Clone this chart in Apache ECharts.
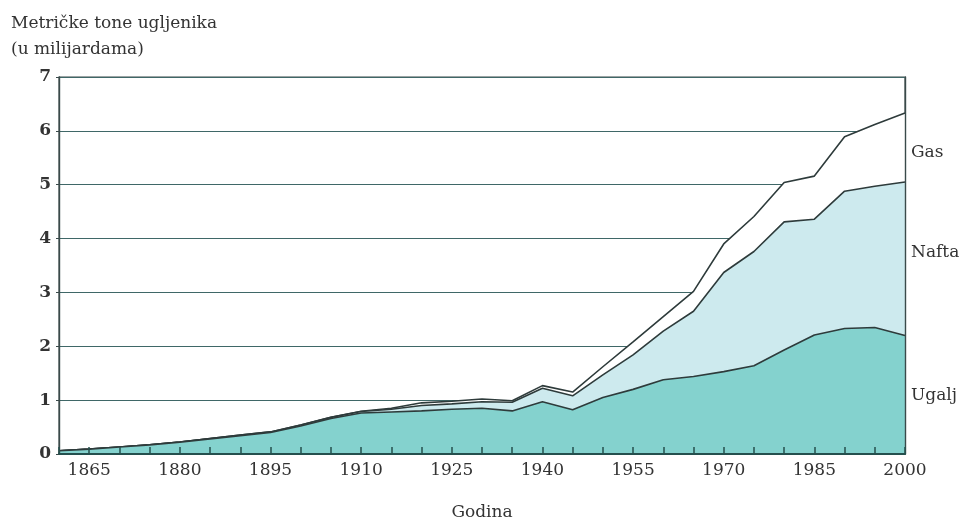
<!DOCTYPE html>
<html>
<head>
<meta charset="utf-8">
<script src="https://cdn.jsdelivr.net/npm/echarts@6/dist/echarts.min.js"></script>
<style>html,body{margin:0;padding:0;background:#fff;}#c{width:960px;height:523px;}</style>
</head>
<body>
<div id="c"></div>
<script>
var years = [1860,1865,1870,1875,1880,1885,1890,1895,1900,1905,1910,1915,1920,1925,1930,1935,1940,1945,1950,1955,1960,1965,1970,1975,1980,1985,1990,1995,2000];
var ugalj = [0.06,0.09,0.13,0.17,0.22,0.28,0.34,0.40,0.52,0.66,0.76,0.78,0.80,0.83,0.85,0.80,0.97,0.82,1.05,1.20,1.38,1.44,1.53,1.64,1.93,2.21,2.33,2.35,2.20];
var nafta = [0,0,0,0,0,0.005,0.01,0.01,0.02,0.02,0.03,0.05,0.10,0.10,0.12,0.16,0.25,0.26,0.42,0.64,0.90,1.21,1.84,2.12,2.38,2.15,2.55,2.62,2.85];
var gas   = [0,0,0,0,0,0,0,0,0,0,0.005,0.02,0.05,0.05,0.05,0.03,0.05,0.07,0.15,0.24,0.27,0.37,0.53,0.65,0.73,0.80,1.01,1.15,1.28];
var yTicks = [0,1,2,3,4,5,6,7];
var xLabelYears = [1865,1880,1895,1910,1925,1940,1955,1970,1985,2000];
var seriesNames = ['Ugalj','Nafta','Gas'];
var yTitle = 'Metričke tone ugljenika\n(u milijardama)';
var xTitle = 'Godina';

// cumulative stacks (built from the arrays above)
var layers = [ugalj, nafta, gas];
var cum = [];
var run = years.map(function(){ return 0; });
layers.forEach(function(arr){
  run = run.map(function(v,i){ return v + arr[i]; });
  cum.push(years.map(function(y,i){ return [y, +run[i].toFixed(4)]; }));
});

var FONT = 'DejaVu Serif';
var lineCol = '#2e3b3b';
var frameCol = '#3a4a4a';
var fills = ['#84d2ce', '#cdeaee', '#ffffff'];
function mk(k, zz){
  return {
    name: seriesNames[k], type: 'line', data: cum[k], yAxisIndex: 0,
    symbol: 'none', smooth: false,
    lineStyle: {color: lineCol, width: 1.6},
    areaStyle: {color: fills[k], opacity: 1},
    z: zz
  };
}
var yBase = {type: 'value', min: 0, max: 7, interval: 1};
var chart = echarts.init(document.getElementById('c'), null, {renderer:'canvas'});
chart.setOption({
  animation: false,
  backgroundColor: '#ffffff',
  title: {
    text: yTitle, left: 6, top: 6,
    textStyle: {fontFamily: FONT, fontSize: 17, fontWeight: 'normal', color: '#333', lineHeight: 26}
  },
  grid: {left: 59, right: 55, top: 77, bottom: 69, outerBoundsMode: 'none', containLabel: false,
         show: true, borderColor: frameCol, borderWidth: 1.2, backgroundColor: 'transparent'},
  xAxis: {
    type: 'value', min: 1860, max: 2000, interval: 5, z: 10,
    name: xTitle, nameLocation: 'middle', nameGap: 50,
    nameTextStyle: {fontFamily: FONT, fontSize: 17, color: '#333'},
    axisLine: {show: true, lineStyle: {color: '#24504e', width: 2.2}},
    axisTick: {show: true, inside: true, length: 7, lineStyle: {color: '#24504e', width: 1.5}},
    splitLine: {show: false},
    axisLabel: {
      fontFamily: FONT, fontSize: 17, color: '#333', margin: 8,
      formatter: function(v){ return xLabelYears.indexOf(v) >= 0 ? String(v) : ''; }
    }
  },
  yAxis: [
    Object.assign({}, yBase, {
      position: 'left', z: 0,
      axisLine: {show: false}, axisTick: {show: false}, axisLabel: {show: false},
      splitLine: {show: true, lineStyle: {color: '#3f6767', width: 1}}
    }),
    Object.assign({}, yBase, {
      position: 'left', z: 10,
      axisLine: {show: true, onZero: false, lineStyle: {color: frameCol, width: 1.4}},
      axisTick: {show: true, length: 3, lineStyle: {color: frameCol}},
      splitLine: {show: false},
      axisLabel: {
        fontFamily: FONT, fontSize: 17, color: '#333', margin: 8, fontWeight: 'bold',
        formatter: function(v){ return yTicks.indexOf(v) >= 0 ? String(v) : ''; }
      }
    }),
    Object.assign({}, yBase, {
      position: 'right', z: 10,
      axisLine: {show: true, onZero: false, lineStyle: {color: frameCol, width: 1.4}},
      axisTick: {show: false}, axisLabel: {show: false}, splitLine: {show: false}
    })
  ],
  series: [
    mk(2, 2),
    mk(1, 3),
    mk(0, 4)
  ],
  graphic: [
    {type: 'text', left: 911, top: 144, style: {text: seriesNames[2], font: '17px "DejaVu Serif"', fill: '#333'}},
    {type: 'text', left: 911, top: 244, style: {text: seriesNames[1], font: '17px "DejaVu Serif"', fill: '#333'}},
    {type: 'text', left: 911, top: 387, style: {text: seriesNames[0], font: '17px "DejaVu Serif"', fill: '#333'}}
  ]
});
</script>
</body>
</html>
